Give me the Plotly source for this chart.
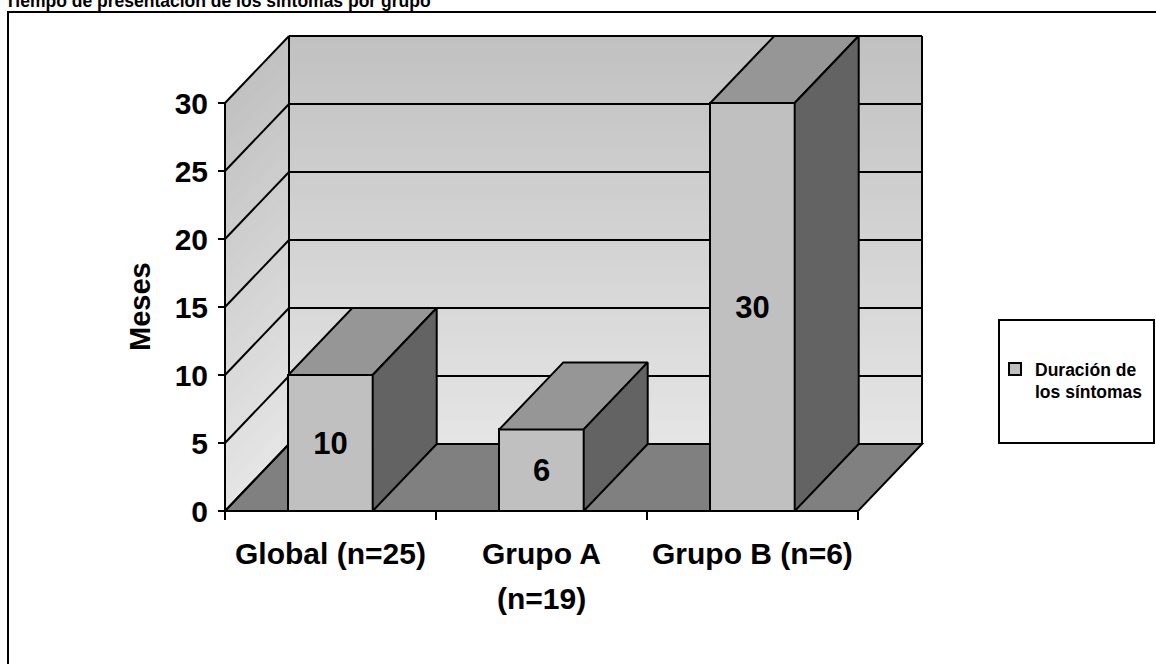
import plotly.graph_objects as go

# ---- data -------------------------------------------------------------
categories = ["Global (n=25)", "Grupo A (n=19)", "Grupo B (n=6)"]
category_lines = [["Global (n=25)"], ["Grupo A", "(n=19)"], ["Grupo B (n=6)"]]
duracion_meses = [10, 6, 30]
value_labels = ["10", "6", "30"]
y_ticks = [0, 5, 10, 15, 20, 25, 30]
series_name = "Duración de<br>los síntomas"
y_title = "Meses"
title_text = "Tiempo de presentación de los síntomas por grupo"

# ---- page / plot-area geometry ---------------------------------------
FIG_W, FIG_H = 1156, 664
M_L, M_R, M_T, M_B = 212, 222, 30, 145
PLOT_W = FIG_W - M_L - M_R
PLOT_H = FIG_H - M_T - M_B
PX_PER_X, PX_PER_Y = 211.0, 13.6     # pixels per category / per month
FRONT_X0_PX, ZERO_Y_PX = 225, 511     # where x=-0.5 and y=0 land

X0, X1 = -0.5, len(categories) - 0.5  # front floor edge
x_min = X0 - (FRONT_X0_PX - M_L) / PX_PER_X
x_max = x_min + PLOT_W / PX_PER_X
y_min = -((FIG_H - M_B) - ZERO_Y_PX) / PX_PER_Y
y_max = y_min + PLOT_H / PX_PER_Y

BAR_W = 0.4
DX = 64 / PX_PER_X                    # depth offset of the 3D box
DY = 67 / PX_PER_Y
Y_TOP = y_ticks[-1]

FONT = "Liberation Sans, Arial, sans-serif"
LINE = dict(color="black", width=2)


def px_x(p):
    return (p - M_L) / PLOT_W


def px_y(p):
    return 1 - (p - M_T) / PLOT_H


def grey(level):
    return f"rgb({level},{level},{level})"


def path(points):
    return "M " + " L ".join(f"{x},{y}" for x, y in points) + " Z"


shapes = []

# walls with a vertical light-to-dark gradient, drawn as thin bands
N_BANDS = 60
TOP_G, BOT_G = 193, 229
for k in range(N_BANDS):
    v0 = Y_TOP * k / N_BANDS
    v1 = min(Y_TOP * (k + 1) / N_BANDS + 0.05, Y_TOP)
    t = (k + 0.5) / N_BANDS
    col = grey(round(BOT_G + (TOP_G - BOT_G) * t))
    shapes.append(dict(type="rect", xref="x", yref="y", layer="below",
                       x0=X0 + DX, x1=X1 + DX, y0=v0 + DY, y1=v1 + DY,
                       fillcolor=col, line=dict(width=0)))
    shapes.append(dict(type="path", xref="x", yref="y", layer="below",
                       path=path([(X0, v0), (X0 + DX, v0 + DY),
                                  (X0 + DX, v1 + DY), (X0, v1)]),
                       fillcolor=col, line=dict(width=0)))

# floor
shapes.append(dict(type="path", xref="x", yref="y", layer="below",
                   path=path([(X0, 0), (X1, 0), (X1 + DX, DY), (X0 + DX, DY)]),
                   fillcolor=grey(128), line=LINE))

# grid lines on back wall and side wall
for v in y_ticks:
    shapes.append(dict(type="line", xref="x", yref="y", layer="below",
                       x0=X0, y0=v, x1=X0 + DX, y1=v + DY, line=LINE))
    if v > 0:
        shapes.append(dict(type="line", xref="x", yref="y", layer="below",
                           x0=X0 + DX, y0=v + DY, x1=X1 + DX, y1=v + DY, line=LINE))

# wall edges
for (xa, ya, xb, yb) in [(X0, 0, X0, Y_TOP),
                         (X0 + DX, DY, X0 + DX, Y_TOP + DY),
                         (X1 + DX, DY, X1 + DX, Y_TOP + DY)]:
    shapes.append(dict(type="line", xref="x", yref="y", layer="below",
                       x0=xa, y0=ya, x1=xb, y1=yb, line=LINE))

# outer frame and legend box
shapes.append(dict(type="rect", xref="paper", yref="paper",
                   x0=px_x(8), x1=px_x(1170), y0=px_y(12), y1=px_y(680),
                   line=LINE, fillcolor="rgba(0,0,0,0)"))
shapes.append(dict(type="rect", xref="paper", yref="paper",
                   x0=px_x(999), x1=px_x(1154), y0=px_y(320), y1=px_y(443),
                   line=LINE, fillcolor="white", layer="below"))

fig = go.Figure()

# front faces of the bars
fig.add_trace(go.Bar(
    x=list(range(len(categories))), y=duracion_meses, width=BAR_W,
    name=series_name, text=value_labels, textposition="inside",
    insidetextanchor="middle", textangle=0,
    textfont=dict(family=FONT, size=31, color="black", weight="bold"),
    marker=dict(color=grey(192), line=LINE),
    hoverinfo="skip", showlegend=True,
))

# top and side faces of each bar
for i, v in enumerate(duracion_meses):
    xl, xr = i - BAR_W / 2, i + BAR_W / 2
    top = [(xl, v), (xr, v), (xr + DX, v + DY), (xl + DX, v + DY), (xl, v)]
    side = [(xr, 0), (xr + DX, DY), (xr + DX, v + DY), (xr, v), (xr, 0)]
    for pts, level in ((top, 150), (side, 99)):
        fig.add_trace(go.Scatter(
            x=[p[0] for p in pts], y=[p[1] for p in pts], mode="lines",
            fill="toself", fillcolor=grey(level), line=LINE,
            hoverinfo="skip", showlegend=False,
        ))

annotations = []
for i, lines in enumerate(category_lines):
    for j, txt in enumerate(lines):
        annotations.append(dict(
            x=i, y=0, xref="x", yref="y", text=txt, showarrow=False,
            yshift=-42 - 45 * j, yanchor="middle", xanchor="center",
            font=dict(family=FONT, size=30, color="black", weight="bold"),
        ))
annotations.append(dict(
    x=px_x(140), y=px_y(307), xref="paper", yref="paper", text=y_title,
    textangle=-90, showarrow=False, xanchor="center", yanchor="middle",
    font=dict(family=FONT, size=29, color="black", weight="bold"),
))
annotations.append(dict(
    x=px_x(3), y=px_y(1), xref="paper", yref="paper", text=title_text,
    showarrow=False, xanchor="left", yanchor="middle",
    font=dict(family=FONT, size=17.5, color="black", weight="bold"),
))

fig.update_layout(
    width=FIG_W, height=FIG_H,
    margin=dict(l=M_L, r=M_R, t=M_T, b=M_B, autoexpand=False),
    paper_bgcolor="white", plot_bgcolor="rgba(0,0,0,0)",
    shapes=shapes, annotations=annotations,
    bargap=0,
    xaxis=dict(range=[x_min, x_max], anchor="free",
               position=(0 - y_min) / (y_max - y_min),
               tickvals=[X0 + k for k in range(len(categories) + 1)],
               ticktext=[""] * (len(categories) + 1),
               ticks="outside", ticklen=8, tickwidth=2, tickcolor="black",
               showgrid=False, zeroline=False, showline=False, fixedrange=True),
    yaxis=dict(range=[y_min, y_max], anchor="free",
               position=(X0 - x_min) / (x_max - x_min),
               tickvals=y_ticks, ticks="outside", ticklen=7, tickwidth=2,
               tickcolor="black", ticklabelstandoff=4,
               tickfont=dict(family=FONT, size=30, color="black", weight="bold"),
               showgrid=False, zeroline=False, showline=False, fixedrange=True),
    legend=dict(x=px_x(995), y=px_y(351), xanchor="left", yanchor="top",
                valign="top", bgcolor="rgba(0,0,0,0)", borderwidth=0,
                itemwidth=30,
                font=dict(family=FONT, size=17.5, color="black", weight="bold")),
)

fig.write_html("out.html")
